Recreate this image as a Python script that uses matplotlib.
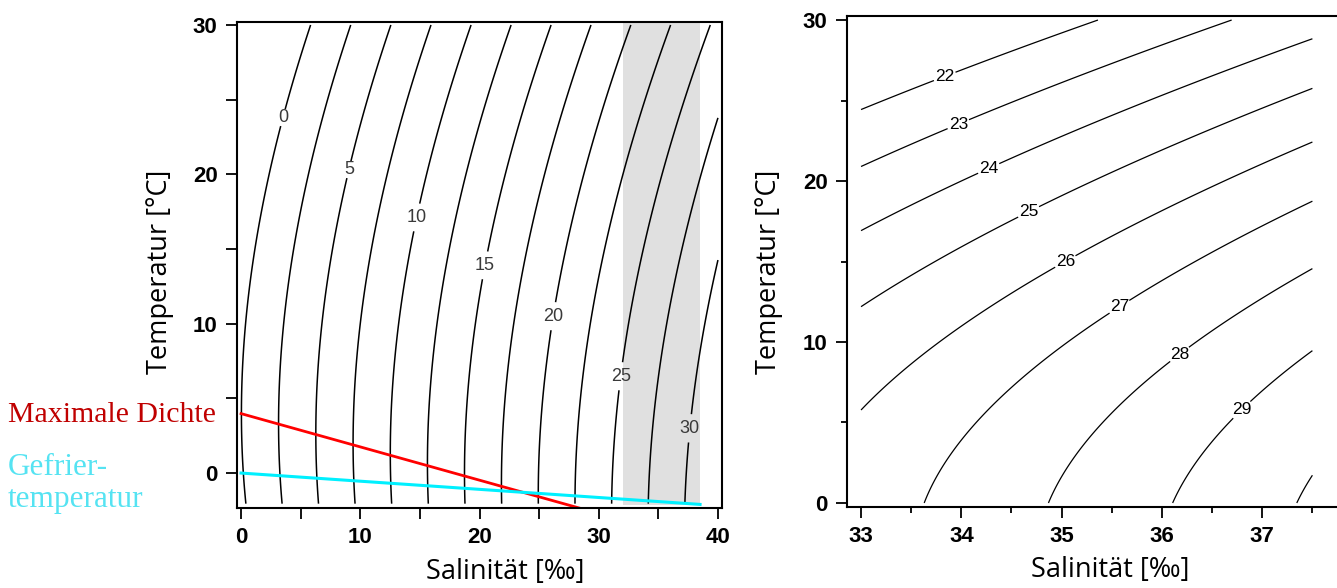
import matplotlib
import numpy as np

matplotlib.use("Agg")
import matplotlib.pyplot as plt

# sigma-t levels drawn in the two panels
left_levels = [0, 2.5, 5, 7.5, 10, 12.5, 15, 17.5, 20, 22.5, 25, 27.5, 30, 32.5]
left_label_levels = [0, 5, 10, 15, 20, 25, 30]
left_label_pos = [(3.5, 23.8), (9.1, 20.3), (14.8, 17.1), (20.5, 13.9),
                  (26.2, 10.5), (31.7, 6.5), (37.6, 3.0)]
right_levels = [22, 23, 24, 25, 26, 27, 28, 29, 30]
right_label_levels = [22, 23, 24, 25, 26, 27, 28, 29]
right_label_pos = [(33.85, 26.2), (33.98, 23.35), (34.29, 20.5), (34.69, 17.8),
                   (35.06, 14.7), (35.61, 11.8), (36.21, 8.9), (36.86, 5.3)]

# temperature of maximum density and freezing point (salinity, temperature)
max_dens_s = [0, 28.4]
max_dens_t = [3.98, -2.35]
freeze_s = [0, 38.5]
freeze_t = [0.0, -2.1]

# salinity band of typical ocean water
ocean_band = [32.0, 38.5]

# EOS-80 one-atmosphere density coefficients
rho_w_coef = [999.842594, 6.793952e-2, -9.095290e-3, 1.001685e-4, -1.120083e-6, 6.536332e-9]
s1_coef = [0.824493, -4.0899e-3, 7.6438e-5, -8.2467e-7, 5.3875e-9]
s15_coef = [-5.72466e-3, 1.0227e-4, -1.6546e-6]
s2_coef = 4.8314e-4

W, H = 1337, 588
label_font = ["Open Sans", "DejaVu Sans"]
serif_font = ["Liberation Serif", "DejaVu Serif"]


def sigma_t(s, t):
    rho_w = sum(c * t ** i for i, c in enumerate(rho_w_coef))
    a = sum(c * t ** i for i, c in enumerate(s1_coef))
    b = sum(c * t ** i for i, c in enumerate(s15_coef))
    return rho_w + a * s + b * s ** 1.5 + s2_coef * s ** 2 - 1000.0


def contour_panel(ax, s, t, levels, label_levels, label_pos, lw, label_color, fs):
    z = sigma_t(s, t)
    plain = [lv for lv in levels if lv not in label_levels]
    ax.contour(s, t, z, levels=plain, colors="black", linewidths=lw)
    cs = ax.contour(s, t, z, levels=label_levels, colors="black", linewidths=lw)
    labels = ax.clabel(cs, manual=label_pos, fontsize=fs, inline=True,
                       inline_spacing=3, fmt="%g")
    for lbl in labels:
        lbl.set_color(label_color)
        lbl.set_rotation(0)


def px_text(x, y, s, **kw):
    fig.text(x / W, 1 - y / H, s, **kw)


plt.rcParams["font.family"] = ["Liberation Sans", "DejaVu Sans"]

fig = plt.figure(figsize=(W / 100, H / 100), dpi=100)
ax1 = fig.add_axes([237 / W, 1 - 508 / H, 485 / W, 486 / H])
ax2 = fig.add_axes([847 / W, 1 - 507 / H, 498 / W, 491 / H])

# left panel
s_grid, t_grid = np.meshgrid(np.linspace(0, 40, 400), np.linspace(-2.05, 30, 400))
ax1.fill_between(ocean_band, -2.15, 30.1, color="#e0e0e0", lw=0, zorder=0)
contour_panel(ax1, s_grid, t_grid, left_levels, left_label_levels, left_label_pos,
              1.1, "#3a3a3a", 13)
ax1.plot(max_dens_s, max_dens_t, color="#ff0000", lw=2)
ax1.plot(freeze_s, freeze_t, color="#00f0ff", lw=2.2)

ax1.set_xlim(-0.34, 40.34)
ax1.set_ylim(-2.34, 30.2)
ax1.set_xticks([0, 10, 20, 30, 40])
ax1.set_xticks([5, 15, 25, 35], minor=True)
ax1.set_yticks([0, 10, 20, 30])
ax1.set_yticks([5, 15, 25], minor=True)
ax1.tick_params(which="both", length=8)

# right panel
s2_grid, t2_grid = np.meshgrid(np.linspace(33, 37.5, 400), np.linspace(0, 30, 400))
contour_panel(ax2, s2_grid, t2_grid, right_levels, right_label_levels, right_label_pos,
              0.9, "black", 12.5)

ax2.set_xlim(32.86, 37.825)
ax2.set_ylim(-0.25, 30.25)
ax2.set_xticks([33, 34, 35, 36, 37])
ax2.set_xticks([33.5, 34.5, 35.5, 36.5, 37.5], minor=True)
ax2.set_yticks([0, 10, 20, 30])
ax2.set_yticks([5, 15, 25], minor=True)
ax2.tick_params(which="major", length=8)
ax2.tick_params(which="minor", length=4.5)

for ax in (ax1, ax2):
    for sp in ax.spines.values():
        sp.set_linewidth(1.5)
    ax.tick_params(which="both", direction="out", width=1.3)
    ax.tick_params(which="major", labelsize=16, pad=6)
    for lbl in ax.get_xticklabels() + ax.get_yticklabels():
        lbl.set_fontweight("bold")

# axis titles
px_text(505, 579, "Salinität [‰]", fontsize=19.5, family=label_font,
        ha="center", va="baseline")
px_text(1110, 577, "Salinität [‰]", fontsize=19.5, family=label_font,
        ha="center", va="baseline")
px_text(160, 272, "Temperatur [°C]", fontsize=19.5, family=label_font,
        ha="center", va="center", rotation=90)
px_text(769, 272, "Temperatur [°C]", fontsize=19.5, family=label_font,
        ha="center", va="center", rotation=90)

# line captions
px_text(8, 422, "Maximale Dichte", color="#c00000", fontsize=21.5,
        family=serif_font, va="baseline")
px_text(8, 475, "Gefrier-", color="#55e3f2", fontsize=22.5,
        family=serif_font, va="baseline")
px_text(8, 507, "temperatur", color="#55e3f2", fontsize=22.5,
        family=serif_font, va="baseline")

fig.savefig("out.png", dpi=100)
plt.close(fig)
